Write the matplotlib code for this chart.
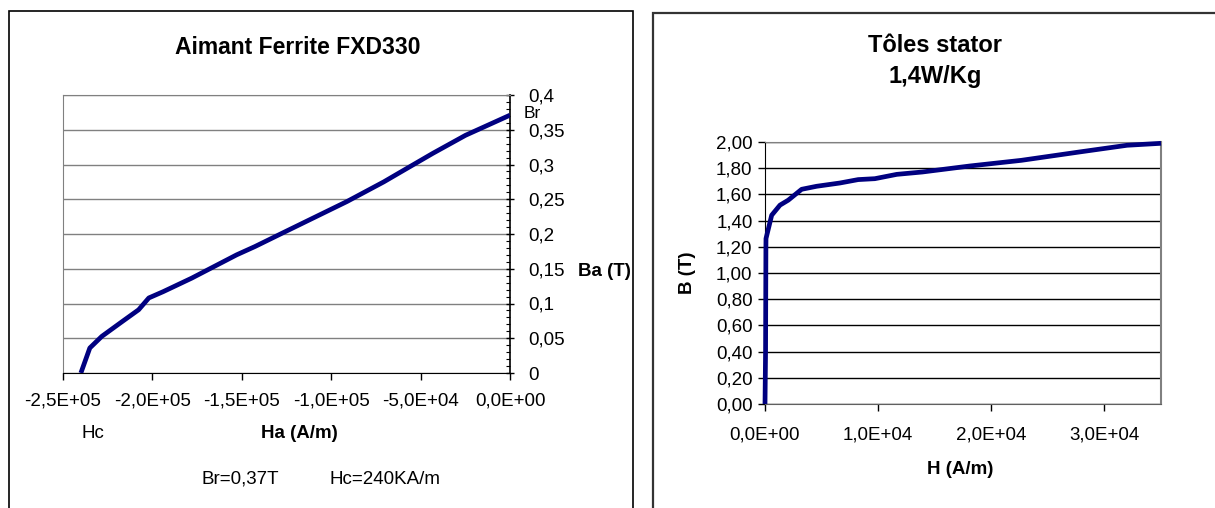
import matplotlib
matplotlib.use("Agg")
import matplotlib.pyplot as plt
from matplotlib.patches import Rectangle
from matplotlib.ticker import FixedLocator, MultipleLocator

plt.rcParams['font.family'] = ['Liberation Sans', 'DejaVu Sans']

# ---- Data: ferrite magnet demagnetisation curve ----
ha_values = [-2.40e5, -2.35e5, -2.283e5, -2.169e5, -2.077e5, -2.02e5, -1.94e5,
             -1.78e5, -1.529e5, -1.426e5, -1.255e5, -0.912e5, -0.706e5, -0.626e5,
             -0.432e5, -0.249e5, 0.0]
ba_values = [0.0, 0.036, 0.0527, 0.074, 0.091, 0.108, 0.117,
             0.1365, 0.170, 0.182, 0.2036, 0.2467, 0.275, 0.287,
             0.316, 0.342, 0.371]
left_xticks = [-2.5e5, -2.0e5, -1.5e5, -1.0e5, -5.0e4, 0.0]
left_xlabels = ["-2,5E+05", "-2,0E+05", "-1,5E+05", "-1,0E+05", "-5,0E+04", "0,0E+00"]
left_yticks = [0, 0.05, 0.1, 0.15, 0.2, 0.25, 0.3, 0.35, 0.4]
left_ylabels = ["0", "0,05", "0,1", "0,15", "0,2", "0,25", "0,3", "0,35", "0,4"]

# ---- Data: stator sheet B(H) curve ----
h_values = [0, 50, 80, 88, 590, 1324, 2056, 3240, 4563, 6620, 8235, 9709,
            11650, 13900, 18120, 22650, 27800, 32000, 35000]
b_values = [0.0, 0.40, 1.20, 1.263, 1.441, 1.518, 1.556, 1.639, 1.662, 1.687,
            1.713, 1.72, 1.753, 1.771, 1.817, 1.86, 1.924, 1.975, 1.99]
right_xticks = [0, 1e4, 2e4, 3e4]
right_xlabels = ["0,0E+00", "1,0E+04", "2,0E+04", "3,0E+04"]
right_yticks = [0, 0.2, 0.4, 0.6, 0.8, 1.0, 1.2, 1.4, 1.6, 1.8, 2.0]
right_ylabels = ["0,00", "0,20", "0,40", "0,60", "0,80", "1,00", "1,20",
                 "1,40", "1,60", "1,80", "2,00"]

W, H = 1215, 508
fig = plt.figure(figsize=(W / 100, H / 100), dpi=100)
fig.patch.set_facecolor("white")

def fx(px):
    return px / W

def fy(py):
    return 1 - py / H

# panel borders
fig.add_artist(Rectangle((fx(9), fy(560)), fx(633 - 9), (560 - 11) / H,
                         transform=fig.transFigure, fill=False, edgecolor="black", lw=1.2))
fig.add_artist(Rectangle((fx(653), fy(560)), fx(1300 - 653), (560 - 13) / H,
                         transform=fig.transFigure, fill=False, edgecolor="#333333", lw=1.6))

navy = "#000080"
grey = "#808080"
TICK = 13.5
LAB = 13.5

# ---------------- Left chart ----------------
ax1 = fig.add_axes([fx(63), fy(373), fx(510 - 63), (373 - 95) / H])
ax1.plot(ha_values, ba_values, color=navy, lw=3.4, solid_capstyle="butt", zorder=3)
ax1.set_xlim(-2.5e5, 0)
ax1.set_ylim(0, 0.4)
ax1.xaxis.set_major_locator(FixedLocator(left_xticks))
ax1.set_xticklabels(left_xlabels, fontsize=TICK)
ax1.yaxis.tick_right()
ax1.yaxis.set_major_locator(FixedLocator(left_yticks))
ax1.set_yticklabels(left_ylabels, fontsize=TICK)
ax1.yaxis.set_minor_locator(MultipleLocator(0.01))
ax1.tick_params(axis="y", which="major", direction="inout", length=6, width=1, pad=10)
ax1.tick_params(axis="y", which="minor", direction="in", length=3, width=0.8)
ax1.tick_params(axis="x", which="major", direction="out", length=5, width=1, pad=9)
ax1.grid(axis="y", color=grey, lw=1)
for s in ["top", "left"]:
    ax1.spines[s].set_color(grey)
ax1.spines["right"].set_color("black")
ax1.spines["right"].set_linewidth(1.2)
ax1.spines["bottom"].set_color("black")
ax1.set_axisbelow(True)

fig.text(fx(298), fy(48), "Aimant Ferrite FXD330", fontsize=16.5, fontweight="bold",
         ha="center", va="center")
fig.text(fx(524), fy(113), "Br", fontsize=12.5, ha="left", va="center")
fig.text(fx(578), fy(271), "Ba (T)", fontsize=LAB, fontweight="bold", ha="left", va="center")
fig.text(fx(93), fy(433), "Hc", fontsize=LAB, ha="center", va="center")
fig.text(fx(299), fy(433), "Ha (A/m)", fontsize=LAB, fontweight="bold", ha="center", va="center")
fig.text(fx(240), fy(479), "Br=0,37T", fontsize=LAB, ha="center", va="center")
fig.text(fx(385), fy(479), "Hc=240KA/m", fontsize=LAB, ha="center", va="center")

# ---------------- Right chart ----------------
ax2 = fig.add_axes([fx(765), fy(404), fx(1161 - 765), (404 - 142) / H])
ax2.plot(h_values, b_values, color=navy, lw=3.4, solid_capstyle="butt", zorder=3, clip_on=False)
ax2.set_xlim(0, 3.5e4)
ax2.set_ylim(0, 2.0)
ax2.xaxis.set_major_locator(FixedLocator(right_xticks))
ax2.set_xticklabels(right_xlabels, fontsize=TICK)
ax2.yaxis.set_major_locator(FixedLocator(right_yticks))
ax2.set_yticklabels(right_ylabels, fontsize=TICK)
ax2.tick_params(axis="y", direction="out", length=5, width=1, pad=4)
ax2.tick_params(axis="x", direction="out", length=5, width=1, pad=11)
ax2.grid(axis="y", color="black", lw=1)
ax2.spines["top"].set_color(grey)
ax2.spines["right"].set_color(grey)
ax2.spines["right"].set_linewidth(1.5)
ax2.spines["bottom"].set_color("#606060")
ax2.spines["left"].set_color("black")
ax2.set_axisbelow(True)

fig.text(fx(935), fy(45), "Tôles stator", fontsize=17, fontweight="bold", ha="center", va="center")
fig.text(fx(935), fy(77), "1,4W/Kg", fontsize=17, fontweight="bold", ha="center", va="center")
fig.text(fx(688), fy(273), "B (T)", fontsize=LAB, fontweight="bold", rotation=90,
         ha="center", va="center")
fig.text(fx(960), fy(469), "H (A/m)", fontsize=LAB, fontweight="bold", ha="center", va="center")

fig.savefig("out.png", dpi=100, facecolor="white")
